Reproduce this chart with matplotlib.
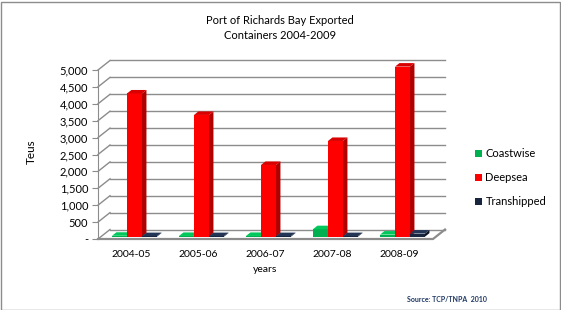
import numpy as np
import matplotlib.pyplot as plt
from matplotlib.patches import Polygon, Patch, Rectangle

plt.rcParams['font.family'] = ['Lato', 'DejaVu Sans']

years = ["2004-05", "2005-06", "2006-07", "2007-08", "2008-09"]
series_names = ["Coastwise", "Deepsea", "Transhipped"]
coastwise = [25, 20, 20, 220, 60]
deepsea = [4235, 3600, 2120, 2830, 5030]
transhipped = [15, 15, 15, 15, 90]
yticks = list(range(0, 5001, 500))

front_cols = ["#00B050", "#FF0000", "#17253F"]
side_cols = ["#007A38", "#B00000", "#0B1424"]
top_cols = ["#00C85A", "#D80000", "#243656"]

W, H = 561, 310
fig = plt.figure(figsize=(W / 100, H / 100), dpi=100)
ax = fig.add_axes([98 / W, 71 / H, 335 / W, 169 / H])
ax.set_xlim(-0.5, 4.5)
ax.set_ylim(0, 5000)

# depth of the 3d box, in data units
px_x = 335 / 5
px_y = 169 / 5000
DX = 12 / px_x
DY = 9.5 / px_y
f0, f1 = 0.25, 0.62
grid_col = "#8C8C8C"

# back wall grid + side wall diagonals
for t in yticks:
    ax.plot([-0.5 + DX, 4.5 + DX], [t + DY, t + DY], color=grid_col, lw=1, clip_on=False, zorder=1)
    ax.plot([-0.5, -0.5 + DX], [t, t + DY], color=grid_col, lw=1, clip_on=False, zorder=1)
# floor
ax.plot([-0.5, 4.5, 4.5 + DX], [0, 0, DY], color=grid_col, lw=1.6, clip_on=False, zorder=1)

x = np.arange(len(years))
w = 0.224
dd = f1 - f0
for i, vals in enumerate([coastwise, deepsea, transhipped]):
    xs = x + (i - 1) * w + f0 * DX
    base = f0 * DY
    ax.bar(xs, vals, width=w, bottom=base, color=front_cols[i], zorder=3 + i, clip_on=False)
    for xc, v in zip(xs, vals):
        x0 = xc - w / 2
        x1 = xc + w / 2
        top = base + v
        side = Polygon([(x1, base), (x1, top), (x1 + dd * DX, top + dd * DY), (x1 + dd * DX, base + dd * DY)],
                       closed=True, facecolor=side_cols[i], edgecolor='none', zorder=3 + i, clip_on=False)
        lid = Polygon([(x0, top), (x1, top), (x1 + dd * DX, top + dd * DY), (x0 + dd * DX, top + dd * DY)],
                      closed=True, facecolor=top_cols[i], edgecolor='none', zorder=3 + i, clip_on=False)
        ax.add_patch(side)
        ax.add_patch(lid)

for s in ["top", "right", "bottom"]:
    ax.spines[s].set_visible(False)
ax.spines["left"].set_color(grid_col)
ax.set_yticks(yticks)
ax.set_yticklabels(["-" if t == 0 else f"{t:,}" for t in yticks], fontsize=8)
ax.tick_params(axis='y', length=4, color=grid_col, pad=3)
ax.set_xticks(x)
ax.set_xticklabels(years, fontsize=7.5)
ax.tick_params(axis='x', length=0, pad=8)
ax.set_facecolor('none')

fig.text(280 / W, 1 - 28 / H, "Port of Richards Bay Exported\nContainers 2004-2009",
         ha='center', va='center', fontsize=8, linespacing=1.5)
fig.text(31 / W, 1 - 152 / H, "Teus", rotation=90, ha='center', va='center', fontsize=8.5)
fig.text(265 / W, 1 - 270 / H, "years", ha='center', va='center', fontsize=7.5)
fig.text(407 / W, 1 - 300 / H, "Source: TCP/TNPA  2010", ha='left', va='center',
         fontsize=5, fontweight='bold', color='#1F3864')

handles = [Patch(facecolor=c) for c in front_cols]
fig.legend(handles, series_names, loc='upper left', bbox_to_anchor=(471 / W, 1 - 144 / H),
           frameon=False, fontsize=8, handlelength=0.6, handleheight=0.6,
           handletextpad=0.3, labelspacing=1.15, borderaxespad=0)

fig.patches.append(Rectangle((0.5 / W, 0.5 / H), 1 - 2 / W, 1 - 2 / H, transform=fig.transFigure,
                             fill=False, edgecolor='#8C8C8C', lw=1))

fig.savefig("out.png", dpi=100)
